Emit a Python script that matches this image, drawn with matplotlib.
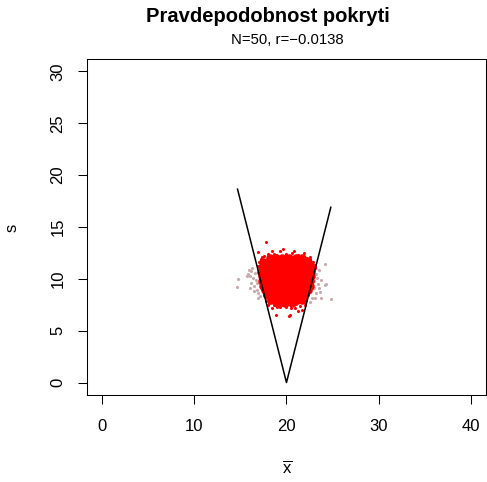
import matplotlib.pyplot as plt

plt.rcParams['font.family'] = ['Liberation Sans', 'DejaVu Sans']
plt.rcParams['mathtext.fontset'] = 'custom'
plt.rcParams['mathtext.rm'] = 'Liberation Sans'

# V-shaped boundary (apex at mu = 20)
v_x = [14.7, 20.0, 24.8]
v_y = [18.65, 0.0, 16.9]

# dense core of covering samples (mean, sd), read row by row
core_rows = {
    12.0: [18.2, 18.9, 19.5, 20.3, 21.0, 21.7],
    11.6: [17.5, 18.1, 18.8, 19.5, 20.2, 20.9, 21.6, 22.3],
    11.15: [17.3, 17.9, 18.6, 19.3, 20.0, 20.7, 21.4, 22.1, 22.75],
    10.7: [17.25, 17.85, 18.5, 19.2, 19.9, 20.6, 21.3, 22.0, 22.7],
    10.25: [17.3, 17.9, 18.6, 19.3, 20.0, 20.7, 21.4, 22.1, 22.7],
    9.8: [17.4, 18.0, 18.7, 19.4, 20.1, 20.8, 21.5, 22.1, 22.6],
    9.35: [17.5, 18.1, 18.8, 19.5, 20.2, 20.9, 21.6, 22.2, 22.5],
    8.9: [17.65, 18.3, 19.0, 19.7, 20.4, 21.1, 21.8, 22.35],
    8.45: [17.85, 18.5, 19.2, 19.9, 20.6, 21.3, 21.95],
    8.0: [18.3, 19.0, 19.7, 20.4, 21.1, 21.7],
    7.7: [19.0, 19.8, 20.6],
}
core_x = [x for xs in core_rows.values() for x in xs]
core_y = [y for y, xs in core_rows.items() for _ in xs]

# scattered covering samples around the core
red_x = [17.8, 16.95, 17.6, 18.4, 19.3, 19.65, 20.0, 20.8, 21.3, 21.9, 22.5,
         18.9, 17.2, 22.9, 23.1, 22.9, 22.8, 17.05, 17.1, 17.25, 17.4, 17.6,
         17.8, 18.0, 18.4, 18.9, 20.0, 20.45, 20.3, 21.5, 21.0, 21.9, 22.3,
         22.5, 22.6, 19.5, 18.1, 20.4, 21.7, 19.0, 20.9, 18.0, 22.2, 17.4,
         17.0, 17.3, 18.6, 19.9, 20.6, 21.4, 22.1, 22.6, 23.0, 16.9, 18.6,
         19.3, 20.9, 21.2, 22.0, 22.1]
red_y = [13.55, 12.6, 12.2, 12.7, 12.7, 12.85, 12.4, 12.7, 12.3, 12.5, 12.1,
         12.3, 11.9, 11.6, 11.0, 10.4, 9.9, 10.8, 10.2, 9.5, 9.0, 8.4,
         7.9, 7.5, 7.2, 6.55, 7.3, 7.2, 6.4, 7.35, 7.6, 7.8, 8.4,
         8.9, 9.3, 7.5, 7.7, 6.5, 7.0, 7.3, 12.0, 12.4, 12.0, 11.4,
         11.6, 12.1, 12.4, 12.2, 12.5, 12.1, 12.0, 11.9, 11.3, 11.2, 7.5,
         7.3, 7.2, 6.9, 7.5, 8.0]

# non-covering samples
gray_x = [14.7, 14.6, 15.9, 16.1, 15.7, 16.4, 16.2, 16.5, 16.8, 16.95, 17.1,
          16.6, 16.0, 16.8, 16.3, 16.7, 15.8, 16.5, 16.9, 16.2,
          24.2, 23.5, 23.25, 23.7, 24.2, 23.5, 23.0, 23.15, 23.7, 24.8, 22.8,
          22.6, 23.0, 23.3, 23.6, 24.3, 23.4, 23.1]
gray_y = [10.0, 9.2, 10.9, 10.3, 10.3, 10.1, 9.6, 9.3, 8.95, 8.65, 8.3,
          10.6, 9.1, 9.6, 11.05, 9.9, 10.45, 8.8, 8.2, 10.8,
          11.4, 10.9, 10.5, 9.9, 9.45, 9.1, 9.1, 8.65, 8.15, 8.05, 8.15,
          7.75, 9.8, 10.1, 8.7, 9.5, 9.5, 8.2]

fig = plt.figure(figsize=(4.87, 4.82), dpi=100)
ax = fig.add_axes([0.1786, 0.1805, 0.8193, 0.6971])

ax.scatter(gray_x, gray_y, s=5, color='#c8aaaa', linewidths=0)
ax.scatter(core_x, core_y, s=38, color='#ff0000', linewidths=0)
ax.scatter(red_x, red_y, s=5, color='#ff0000', linewidths=0)
ax.plot(v_x, v_y, color='black', lw=1.1)

ax.set_xlim(-1.6, 41.6)
ax.set_ylim(-1.2, 31.2)
ax.set_xticks([0, 10, 20, 30, 40])
ax.set_yticks([0, 5, 10, 15, 20, 25, 30])
ax.tick_params(length=6.5, width=0.75, labelsize=12)
ax.tick_params(axis='x', pad=11)
ax.tick_params(axis='y', pad=9)
for lab in ax.get_yticklabels():
    lab.set_rotation(90)
    lab.set_va('center')
for sp in ax.spines.values():
    sp.set_linewidth(0.75)

fig.text(268 / 487, 1 - 17 / 482, 'Pravdepodobnost pokryti', ha='center', va='center',
         fontsize=14.5, fontweight='bold')
fig.text(287 / 487, 1 - 40 / 482, 'N=50, r=\u22120.0138', ha='center', va='center', fontsize=10.7)
fig.text(287 / 487, 1 - 468 / 482, r'$\overline{\mathrm{x}}$', ha='center', va='center', fontsize=12)
fig.text(12 / 487, 1 - 228 / 482, 's', ha='center', va='center', fontsize=12, rotation=90)

fig.savefig('out.png', dpi=100)
